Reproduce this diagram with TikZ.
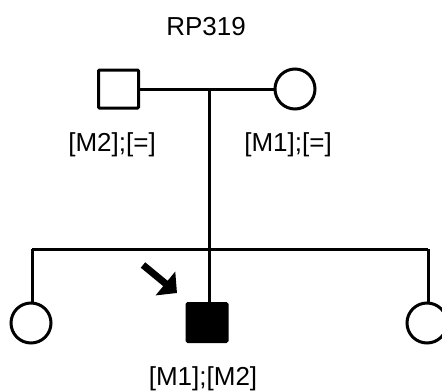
\documentclass[tikz,border=0pt]{standalone}
\usepackage{fontspec}
\setmainfont{Liberation Sans}
\usetikzlibrary{arrows.meta}
\begin{document}
\begin{tikzpicture}[x=1pt,y=-1pt,
  line width=3pt,
  male/.style={draw, rectangle, rounded corners=1pt, minimum width=40pt, minimum height=38pt, inner sep=0pt},
  affected/.style={male, fill=black},
  female/.style={draw, circle, minimum size=40pt, inner sep=0pt},
  lbl/.style={font=\fontsize{26}{30}\selectfont, inner sep=0pt, anchor=center},
  link/.style={line width=3pt}]
\useasboundingbox (0,0) rectangle (442,391);
\node[lbl] (title) at (206,27) {RP319};
\node[male] (father) at (118.5,89) {};
\node[female] (mother) at (295,89) {};
\node[lbl] (lf) at (112,145) {[M2];[=]};
\node[lbl] (lm) at (288,145) {[M1];[=]};
\coordinate (mid) at (209,90.5);
\coordinate (sib) at (209,249);
\coordinate (sl) at (32,249);
\coordinate (sr) at (428,249);
\node[female] (d1) at (31,323) {};
\node[affected] (son) at (207,322.5) {};
\node[female] (d2) at (427,323) {};
\node[lbl] (ls) at (203,379) {[M1];[M2]};
\draw[link] (father.east) -- (mother.west);
\draw[link] (mid) -- (son.north -| mid);
\draw[link] (sl) -- (sr);
\draw[link] (sl) -- (d1.north -| sl);
\draw[link] (sr) -- (d2.north -| sr);
\coordinate (as) at (143,265);
\coordinate (ae) at (177,293);
\draw[line width=7pt, -{Triangle[length=15pt,width=30pt]}] (as) -- (ae);
\end{tikzpicture}
\end{document}
